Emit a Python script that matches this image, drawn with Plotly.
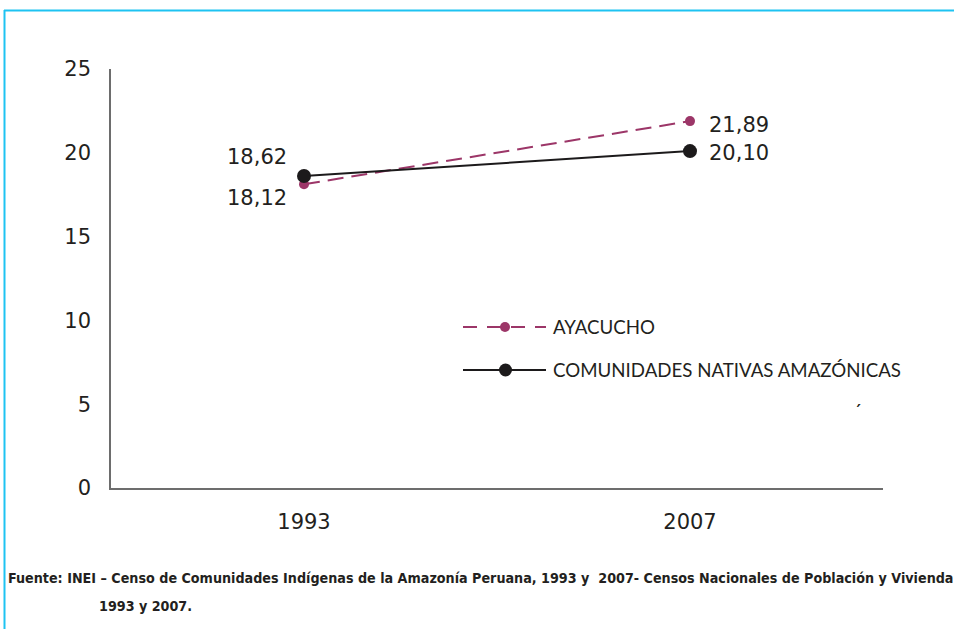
import plotly.graph_objects as go

years = ["1993", "2007"]
ayacucho = [18.12, 21.89]
comunidades = [18.62, 20.10]
ayacucho_labels = ["18,12", "21,89"]
comunidades_labels = ["18,62", "20,10"]
series_names = ["AYACUCHO", "COMUNIDADES NATIVAS AMAZÓNICAS"]
y_ticks = [0, 5, 10, 15, 20, 25]
source_text = ("Fuente: INEI – Censo de Comunidades Indígenas de la Amazonía Peruana, 1993 y  2007- "
               "Censos Nacionales de Población y Vivienda")
source_text2 = "1993 y 2007."

AY_COLOR = "#9C3668"
CN_COLOR = "#1c1a1b"
LABEL_FONT = dict(family="DejaVu Sans, sans-serif", size=21, color="#231f20")
TICK_FONT = dict(family="DejaVu Sans, sans-serif", size=21, color="#231f20")

fig = go.Figure()
fig.add_trace(go.Scatter(
    x=years, y=ayacucho, mode="lines+markers", name=series_names[0],
    line=dict(color=AY_COLOR, width=2, dash="16px,8px"),
    marker=dict(color=AY_COLOR, size=10), showlegend=False))
fig.add_trace(go.Scatter(
    x=years, y=comunidades, mode="lines+markers", name=series_names[1],
    line=dict(color=CN_COLOR, width=2),
    marker=dict(color=CN_COLOR, size=14), showlegend=False))

# data labels (x given as category index)
annots = []
annots.append(dict(x=0, y=comunidades[0], text=comunidades_labels[0], showarrow=False,
                   xanchor="right", yanchor="middle", xshift=-15, yshift=19, font=LABEL_FONT))
annots.append(dict(x=0, y=ayacucho[0], text=ayacucho_labels[0], showarrow=False,
                   xanchor="right", yanchor="middle", xshift=-15, yshift=-14, font=LABEL_FONT))
annots.append(dict(x=1, y=ayacucho[1], text=ayacucho_labels[1], showarrow=False,
                   xanchor="left", yanchor="middle", xshift=17, yshift=-4, font=LABEL_FONT))
annots.append(dict(x=1, y=comunidades[1], text=comunidades_labels[1], showarrow=False,
                   xanchor="left", yanchor="middle", xshift=17, yshift=-2, font=LABEL_FONT))

# legend (manual) in paper coords
W, H = 772.0, 419.0
def px(x):
    return (x - 111) / W
def py(y):
    return (488 - y) / H

LEG_FONT = dict(family="Lato, Open Sans, sans-serif", size=18.7, color="#231f20")
shapes = []
shapes.append(dict(type="line", xref="paper", yref="paper", x0=px(463), x1=px(546), y0=py(327), y1=py(327),
                   line=dict(color=AY_COLOR, width=2, dash="14px,10px")))
shapes.append(dict(type="circle", xref="paper", yref="paper", x0=px(500), x1=px(510), y0=py(322), y1=py(332),
                   fillcolor=AY_COLOR, line=dict(color=AY_COLOR, width=0)))
shapes.append(dict(type="line", xref="paper", yref="paper", x0=px(463), x1=px(546), y0=py(370), y1=py(370),
                   line=dict(color=CN_COLOR, width=2)))
shapes.append(dict(type="circle", xref="paper", yref="paper", x0=px(499), x1=px(512), y0=py(363.5), y1=py(376.5),
                   fillcolor=CN_COLOR, line=dict(color=CN_COLOR, width=0)))
annots.append(dict(xref="paper", yref="paper", x=px(551), y=py(327), text=series_names[0], showarrow=False,
                   xanchor="left", yanchor="middle", font=LEG_FONT))
annots.append(dict(xref="paper", yref="paper", x=px(551), y=py(370), text=series_names[1], showarrow=False,
                   xanchor="left", yanchor="middle", font=LEG_FONT))
annots.append(dict(xref="paper", yref="paper", x=px(858), y=py(410), text="´", showarrow=False,
                   xanchor="center", yanchor="middle", font=dict(family="Lato", size=19, color="#231f20")))

# blue frame
BLUE = "#1EC3F2"
shapes.append(dict(type="line", xref="paper", yref="paper", x0=px(4), x1=px(960), y0=py(10.5), y1=py(10.5),
                   line=dict(color=BLUE, width=2)))
shapes.append(dict(type="line", xref="paper", yref="paper", x0=px(4.5), x1=px(4.5), y0=py(10), y1=py(640),
                   line=dict(color=BLUE, width=2)))

# source
SRC_FONT = dict(family="Liberation Sans Narrow, DejaVu Sans Condensed, Arial Narrow, sans-serif", size=14.2,
                color="#231f20")
annots.append(dict(xref="paper", yref="paper", x=px(6), y=py(578), text="<b>" + source_text + "</b>",
                   showarrow=False, xanchor="left", yanchor="middle", font=SRC_FONT))
annots.append(dict(xref="paper", yref="paper", x=px(97), y=py(606), text="<b>" + source_text2 + "</b>",
                   showarrow=False, xanchor="left", yanchor="middle", font=SRC_FONT))

fig.update_layout(
    width=954, height=629,
    margin=dict(l=111, r=71, t=69, b=141),
    paper_bgcolor="white", plot_bgcolor="white",
    shapes=shapes, annotations=annots,
    xaxis=dict(type="category", range=[-0.5, 1.5], showgrid=False, zeroline=False,
               showline=True, linecolor="#6d6d6d", linewidth=1.5, ticks="",
               tickfont=TICK_FONT, ticklabelstandoff=14),
    yaxis=dict(range=[0, 25], tickvals=y_ticks, showgrid=False, zeroline=False,
               showline=True, linecolor="#6d6d6d", linewidth=1.5, ticks="",
               tickfont=TICK_FONT, ticklabelstandoff=14),
)

fig.write_html("out.html", config={"displayModeBar": False},
               post_script="document.body.style.margin='0';document.body.style.padding='0';"
                           "document.documentElement.style.overflow='hidden';")
